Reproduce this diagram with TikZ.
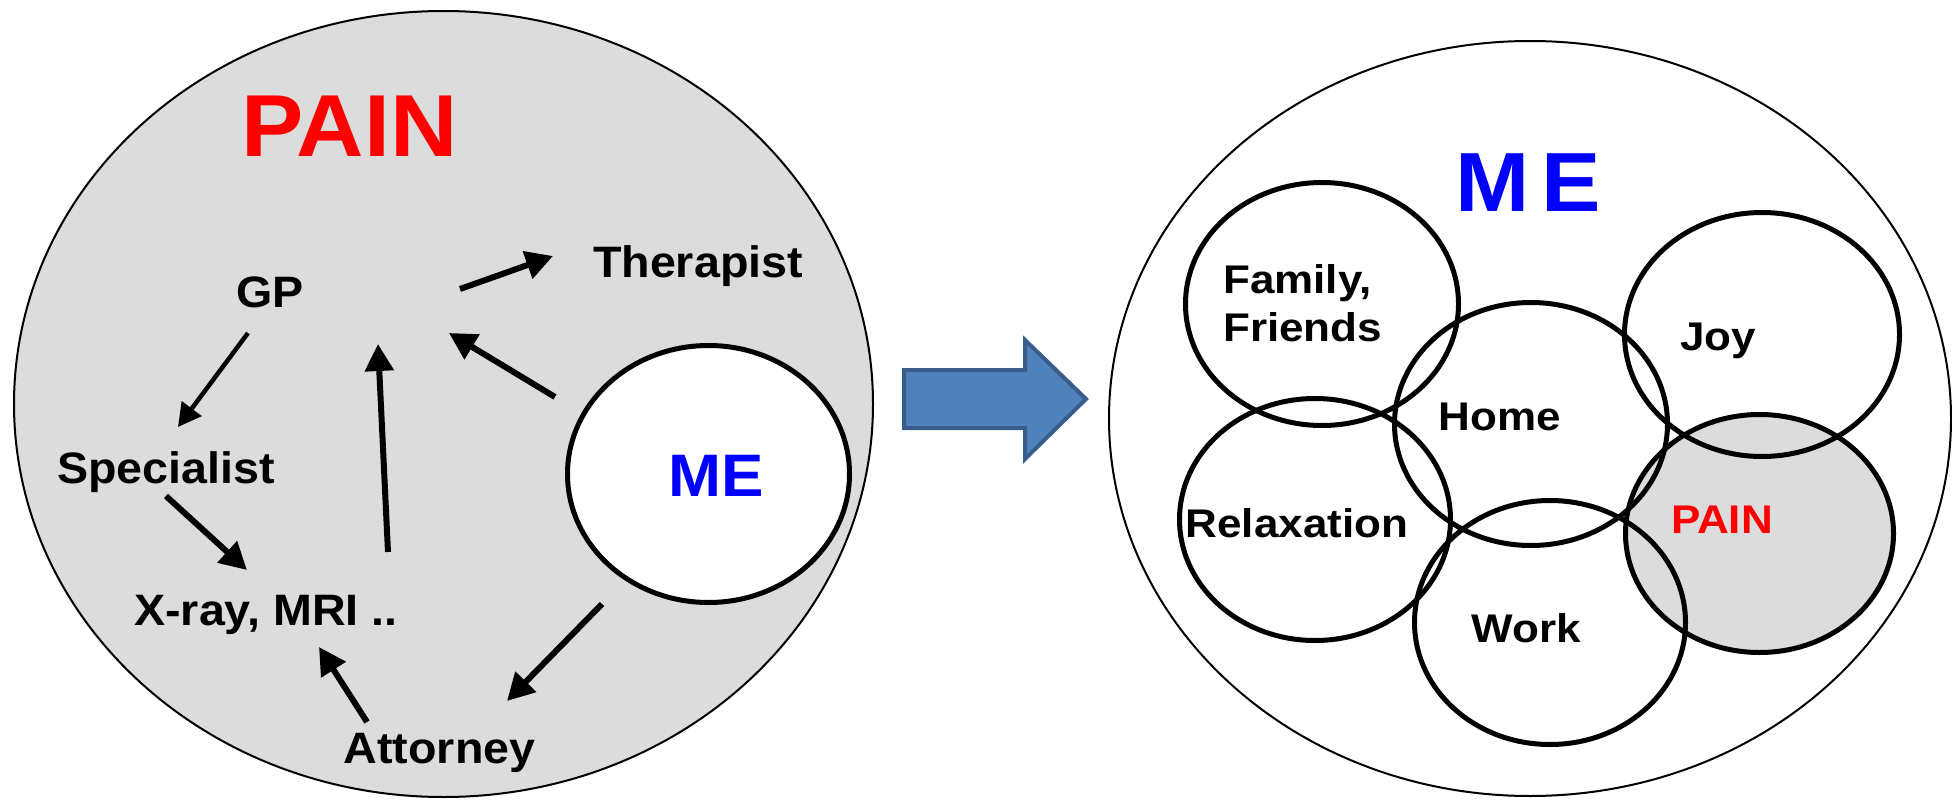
\documentclass[tikz,border=0pt]{standalone}
\usepackage{fontspec}
\newfontfamily\lfont[FakeStretch=1.06]{Liberation Sans}
\newfontfamily\rfont[FakeStretch=1.10]{Liberation Sans}
\usetikzlibrary{shapes.geometric,arrows.meta}
\definecolor{paingray}{HTML}{DCDCDC}
\definecolor{arrowblue}{HTML}{4F81BD}
\definecolor{arrowedge}{HTML}{385D8A}
\definecolor{mered}{HTML}{FF0000}
\definecolor{meblue}{HTML}{0000FF}
\begin{document}
\begin{tikzpicture}[x=1pt,y=-1pt,
  lab/.style={anchor=base, inner sep=0pt, font=\lfont\bfseries\fontsize{44}{50}\selectfont},
  rlab/.style={anchor=base, inner sep=0pt, font=\rfont\bfseries\fontsize{40}{46}\selectfont},
  world/.style={ellipse, draw, line width=2pt, inner sep=0pt},
  ring/.style={ellipse, draw, line width=5pt, inner sep=0pt},
  flow/.style={line width=6pt, -{Triangle[length=27pt,width=28pt]}},
  thinflow/.style={line width=4.5pt, -{Triangle[length=23pt,width=24pt]}},
]
\useasboundingbox (0,0) rectangle (1952,800);

% ---------- left: PAIN world ----------
\node[world, fill=paingray, minimum width=859pt, minimum height=786pt] (painworld) at (443.5,404) {};
\node[ring, fill=white, minimum width=282pt, minimum height=257pt] (mecirc) at (708.5,474) {};

\node[anchor=base, inner sep=0pt, text=mered, font=\lfont\bfseries\fontsize{88}{96}\selectfont] (paintitle) at (349.5,156) {PAIN};
\node[lab] (gp) at (270,307) {GP};
\node[lab] (therapist) at (698,277) {Therapist};
\node[lab] (specialist) at (166,483) {Specialist};
\node[lab] (xray) at (266,625) {X-ray, MRI ..};
\node[lab] (attorney) at (439.5,763) {Attorney};
\node[anchor=base, inner sep=0pt, text=meblue, font=\lfont\bfseries\fontsize{60}{66}\selectfont] (meleft) at (716,496) {ME};

\coordinate (gpS) at (248,333);   \coordinate (specE) at (178,427);
\coordinate (specS) at (166,496); \coordinate (xrayE) at (247,570);
\coordinate (xrayS) at (388,552); \coordinate (hubA) at (378,344);
\coordinate (meS) at (555,397);   \coordinate (hubB) at (449,333);
\coordinate (hubS) at (460,289);  \coordinate (therE) at (553,256);
\coordinate (meS2) at (602,604);  \coordinate (attE) at (507,701);
\coordinate (attS) at (367,722);  \coordinate (xrayE2) at (319,647);

\draw[thinflow] (gpS) -- (specE);
\draw[flow] (specS) -- (xrayE);
\draw[flow] (xrayS) -- (hubA);
\draw[flow] (meS) -- (hubB);
\draw[flow] (hubS) -- (therE);
\draw[flow] (meS2) -- (attE);
\draw[flow] (attS) -- (xrayE2);

% ---------- middle arrow ----------
\draw[fill=arrowblue, draw=arrowedge, line width=4pt, line join=miter]
  (904,370) -- (1025,370) -- (1025,340) -- (1086,399) -- (1025,459) -- (1025,428) -- (904,428) -- cycle;

% ---------- right: ME world ----------
\node[world, minimum width=842pt, minimum height=755pt] (meworld) at (1530,418.5) {};
\node[ring, fill=paingray, minimum width=268pt, minimum height=238pt] (painc) at (1759.5,533.5) {};
\node[ring, minimum width=273pt, minimum height=243pt] (famc) at (1322,304) {};
\node[ring, minimum width=271pt, minimum height=242pt] (relc) at (1315,519.5) {};
\node[ring, minimum width=273pt, minimum height=243pt] (homec) at (1531,424) {};
\node[ring, minimum width=271pt, minimum height=244pt] (workc) at (1550,622.5) {};
\node[ring, minimum width=275pt, minimum height=244pt] (joyc) at (1762,334.5) {};

\node[anchor=base, inner sep=0pt, text=meblue, font=\lfont\bfseries\fontsize{84}{90}\selectfont] (metitle) at (1528.5,211) {M\kern12pt E};
\node[rlab, anchor=base west] (fam1) at (1223,293) {Family,};
\node[rlab, anchor=base west] (fam2) at (1223,341) {Friends};
\node[rlab] (joy) at (1718,350) {Joy};
\node[rlab] (home) at (1500,430) {Home};
\node[rlab] (relax) at (1297,537) {Relaxation};
\node[rlab] (work) at (1526.5,642) {Work};
\node[rlab, text=mered] (painr) at (1722,533) {PAIN};
\end{tikzpicture}
\end{document}
